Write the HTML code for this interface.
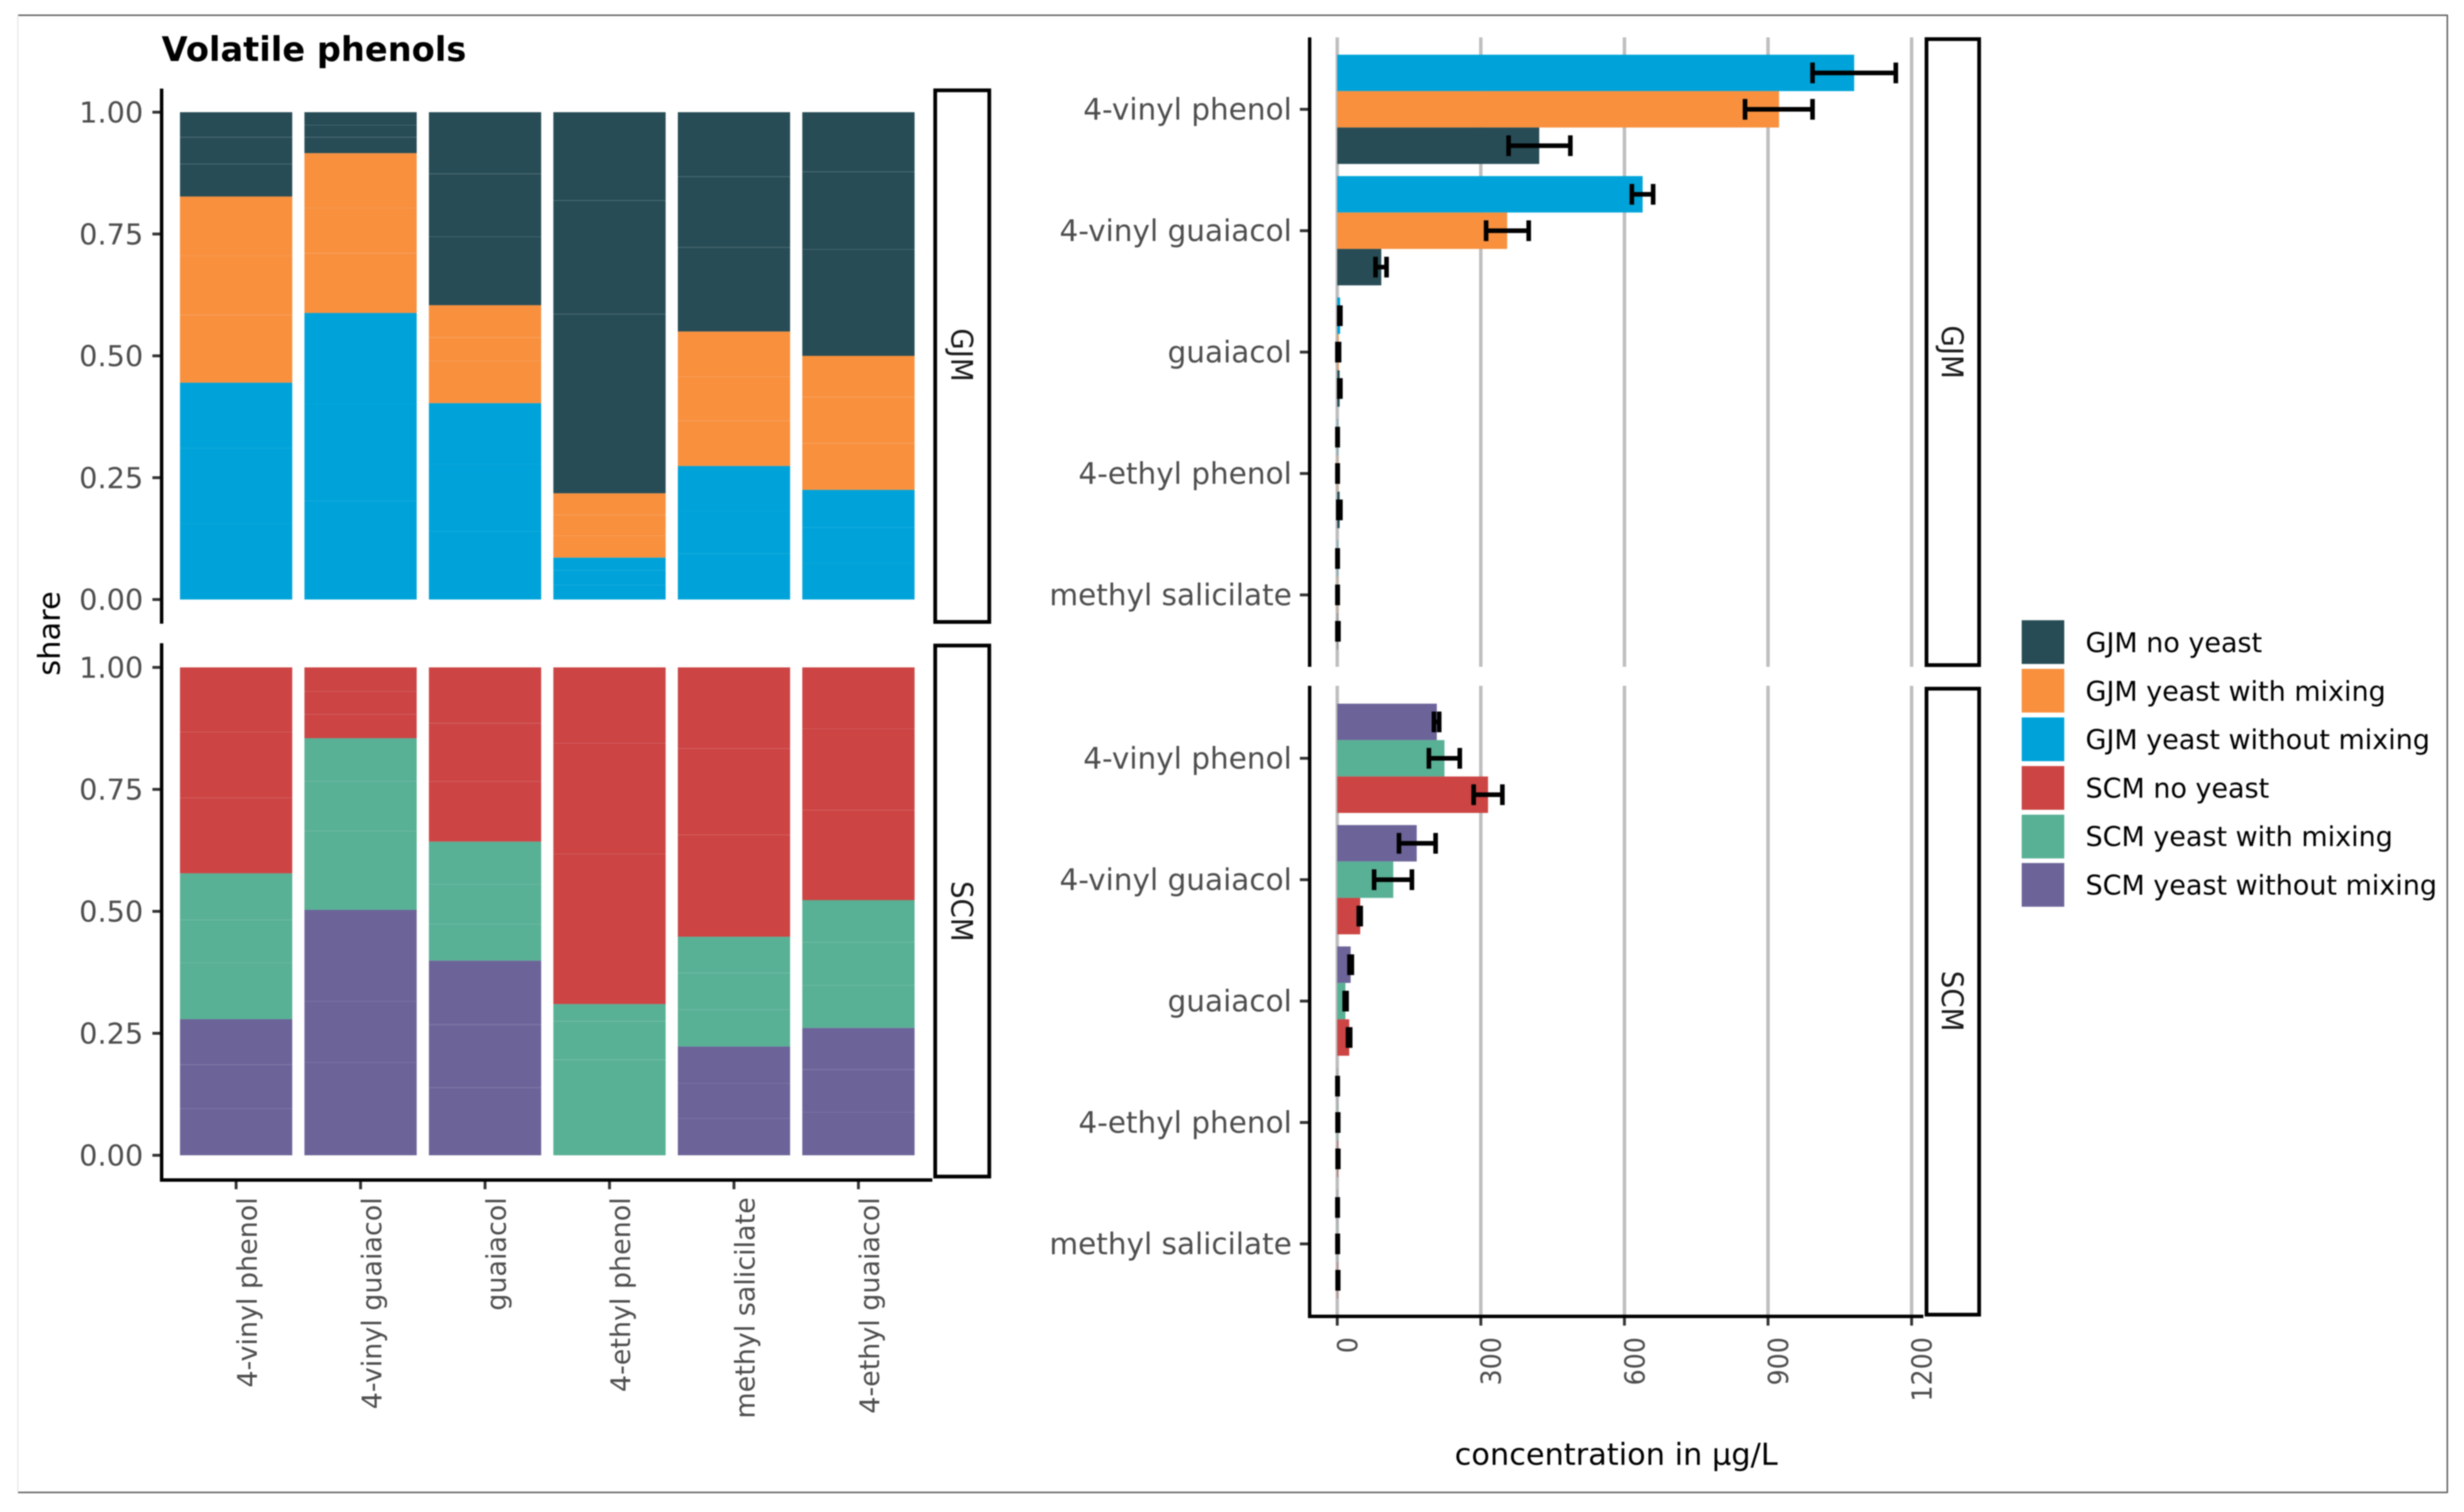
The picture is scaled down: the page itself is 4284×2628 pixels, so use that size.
<!DOCTYPE html>
<html lang="en">
<head>
<meta charset="utf-8">
<title>Volatile phenols</title>
<style>
html,body{margin:0;padding:0;background:#fff;}
svg{display:block;font-family:"DejaVu Sans","Liberation Sans",sans-serif;filter:blur(1px);}
</style>
</head>
<body>
<svg id="chart" xmlns="http://www.w3.org/2000/svg" width="4284" height="2628" viewBox="0 0 4284 2628">
  <rect x="0" y="0" width="4284" height="2628" fill="#ffffff"/>
  <g>
    <line x1="31" y1="26.5" x2="4256" y2="26.5" stroke="#5a5a5a" stroke-width="2.5"/>
    <line x1="31" y1="2594" x2="4256" y2="2594" stroke="#5a5a5a" stroke-width="2.5"/>
    <line x1="4255" y1="26" x2="4255" y2="2594" stroke="#5a5a5a" stroke-width="2.5"/>
    <line x1="31" y1="26" x2="31" y2="2594" stroke="#e6e6e6" stroke-width="2"/>
  </g>
  <text x="281" y="106" font-size="58.5" font-weight="700" fill="#000">Volatile phenols</text>
  <text transform="translate(104,1101) rotate(-90)" text-anchor="middle" font-size="53" fill="#000">share</text>
  <text x="2810" y="2546" text-anchor="middle" font-size="52.8" fill="#000">concentration in µg/L</text>

  <g id="share-panels"></g>
  <g id="conc-panels"></g>

  <g stroke="#000" stroke-width="6" fill="none">
    <line x1="281" y1="154" x2="281" y2="1084"/>
    <line x1="281" y1="1118" x2="281" y2="2054"/>
    <line x1="278" y1="2051" x2="1621" y2="2051"/>
  </g>
  <g stroke="#000" stroke-width="6" fill="none">
    <line x1="2277" y1="65" x2="2277" y2="1159"/>
    <line x1="2277" y1="1192" x2="2277" y2="2291"/>
    <line x1="2274" y1="2288" x2="3344" y2="2288"/>
  </g>

  <g fill="#fff" stroke="#000" stroke-width="6.5">
    <rect x="1626" y="157" width="94" height="924"/>
    <rect x="1626" y="1122" width="94" height="923"/>
    <rect x="3349.5" y="68" width="91.5" height="1088"/>
    <rect x="3349.5" y="1197" width="91.5" height="1088"/>
  </g>
  <g font-size="48" fill="#1a1a1a" text-anchor="middle">
    <text transform="translate(1654,617) rotate(90) scale(1,1.08)">GJM</text>
    <text transform="translate(1654,1584) rotate(90) scale(1,1.08)">SCM</text>
    <text transform="translate(3376,612) rotate(90) scale(1,1.08)">GJM</text>
    <text transform="translate(3376,1740) rotate(90) scale(1,1.08)">SCM</text>
  </g>

  <g font-size="46.9" fill="#000">
    <g>
      <rect x="3515" y="1078" width="74" height="76" fill="#274c56"/>
      <text x="3626" y="1133.5">GJM no yeast</text>
    </g>
    <g>
      <rect x="3515" y="1162.5" width="74" height="76" fill="#f8903e"/>
      <text x="3626" y="1217.8">GJM yeast with mixing</text>
    </g>
    <g>
      <rect x="3515" y="1247" width="74" height="76" fill="#00a3d9"/>
      <text x="3626" y="1302.1">GJM yeast without mixing</text>
    </g>
    <g>
      <rect x="3515" y="1331.5" width="74" height="76" fill="#cc4444"/>
      <text x="3626" y="1386.4">SCM no yeast</text>
    </g>
    <g>
      <rect x="3515" y="1416" width="74" height="76" fill="#58b095"/>
      <text x="3626" y="1470.7">SCM yeast with mixing</text>
    </g>
    <g>
      <rect x="3515" y="1500" width="74" height="76" fill="#6c6499"/>
      <text x="3626" y="1555">SCM yeast without mixing</text>
    </g>
  </g>
</svg>
<script>
const shareCategories = ["4-vinyl phenol","4-vinyl guaiacol","guaiacol","4-ethyl phenol","methyl salicilate","4-ethyl guaiacol"];
const concCategories = ["4-vinyl phenol","4-vinyl guaiacol","guaiacol","4-ethyl phenol","methyl salicilate"];
const shareTicks = [0,0.25,0.5,0.75,1];
const shareTickLabels = ["0.00","0.25","0.50","0.75","1.00"];
const concTicks = [0,300,600,900,1200];
const concTickLabels = ["0","300","600","900","1200"];

const colorNoYeastGjm = "#274c56";
const colorMixGjm = "#f8903e";
const colorNoMixGjm = "#00a3d9";
const colorNoYeastScm = "#cc4444";
const colorMixScm = "#58b095";
const colorNoMixScm = "#6c6499";

/* replicate shares per category, three replicates each */
const shareGjmWithoutMixing = [[.157,.154,.134],[.202,.200,.186],[.140,.138,.125],[.030,.030,.026],[.094,.089,.091],[.075,.073,.077]];
const shareGjmWithMixing = [[.139,.122,.121],[.123,.093,.112],[.087,.048,.066],[.045,.043,.044],[.093,.091,.092],[.096,.095,.084]];
const shareGjmNoYeast = [[.067,.055,.051],[.033,.025,.026],[.141,.129,.126],[.368,.233,.181],[.173,.145,.132],[.219,.159,.122]];
const shareScmWithoutMixing = [[.096,.090,.093],[.191,.125,.187],[.139,.129,.131],[0,0,0],[.076,.072,.075],[.089,.087,.085]];
const shareScmWithMixing = [[.116,.088,.095],[.162,.102,.088],[.075,.082,.087],[.196,.079,.035],[.076,.075,.074],[.088,.088,.086]];
const shareScmNoYeast = [[.155,.135,.132],[.049,.047,.049],[.124,.119,.114],[.308,.227,.155],[.209,.177,.166],[.185,.167,.125]];

/* concentration means with error bar limits */
const concGjmWithoutMixing = [1080,638,6,1,1];
const concGjmWithoutMixingLo = [993,615.5,4.2,0.3,0.3];
const concGjmWithoutMixingHi = [1167,660,6.6,1,1];
const concGjmWithMixing = [923,355,2.5,1,1];
const concGjmWithMixingLo = [852,311,0.3,0.3,0.3];
const concGjmWithMixingHi = [993,400,3.8,1,1];
const concGjmNoYeast = [422,92,5,5,0.8];
const concGjmNoYeastLo = [358,80,4.2,2.2,0.3];
const concGjmNoYeastHi = [487,103,6.6,6.6,2.5];
const concScmWithoutMixing = [208,166,28,0.6,0.6];
const concScmWithoutMixingLo = [202,129,25.5,0.3,0.3];
const concScmWithoutMixingHi = [213,205.5,30.5,1,1];
const concScmWithMixing = [224,117,17,1.2,0.8];
const concScmWithMixingLo = [191.5,77,15.5,0.6,0.4];
const concScmWithMixingHi = [256,156,19.5,2,1.2];
const concScmNoYeast = [315,48,25,1.5,1.2];
const concScmNoYeastLo = [285,45,22.5,0.8,0.8];
const concScmNoYeastHi = [345,49,27,2.2,2];

const SVGNS = "http://www.w3.org/2000/svg";
function mk(parent, tag, attrs, txt){
  const n = document.createElementNS(SVGNS, tag);
  for (const k in attrs) n.setAttribute(k, attrs[k]);
  if (txt !== undefined) n.textContent = txt;
  parent.appendChild(n);
  return n;
}
function slug(s){ return s.replace(/[^a-z0-9]+/gi,'-').toLowerCase(); }

/* axis functions */
function xShare(i){ return 410.5 + 216.4*i; }
const shareBarWidth = 195.2;
function yShareGjm(v){ return 1042 - 847*v; }
function yShareScm(v){ return 2008 - 848*v; }
function xConc(v){ return 2325 + v*(998.6/1200); }
function yConcGjm(i){ return 190 + 211*i; }
function yConcScm(i){ return 1318 + 211*i; }
const concBarHeight = 63.3;

const sharePanels = document.getElementById('share-panels');
const concPanels = document.getElementById('conc-panels');

function drawSharePanel(panelName, yScale, stack){
  const g = mk(sharePanels,'g',{});
  
  
  shareCategories.forEach(function(cat,i){
    let base = 0;
    stack.forEach(function(s){
      s.reps[i].forEach(function(v,j){
        if (v <= 0) return;
        const top = base + v;
        const r = mk(g,'rect',{x:xShare(i)-shareBarWidth/2,y:yScale(top),width:shareBarWidth,height:yScale(base)-yScale(top),fill:s.color});
        
        
        if (j < 2) {
          const l = mk(g,'line',{x1:xShare(i)-shareBarWidth/2,x2:xShare(i)+shareBarWidth/2,y1:yScale(top),y2:yScale(top),stroke:'rgba(255,255,255,'+s.divider+')','stroke-width':2});
          
          
        }
        base = top;
      });
    });
  });
  shareTicks.forEach(function(t,k){
    const tick = mk(g,'line',{x1:265,x2:281,y1:yScale(t),y2:yScale(t),stroke:'#333','stroke-width':5});
    
    
    const lab = mk(g,'text',{x:249,y:yScale(t)+18,'text-anchor':'end','font-size':50,fill:'#4d4d4d'},shareTickLabels[k]);
    
    
  });
}
drawSharePanel('gjm', yShareGjm, [
  {name:'without-mixing',color:colorNoMixGjm,reps:shareGjmWithoutMixing,divider:0.04},
  {name:'with-mixing',color:colorMixGjm,reps:shareGjmWithMixing,divider:0.15},
  {name:'no-yeast',color:colorNoYeastGjm,reps:shareGjmNoYeast,divider:0.18}
]);
drawSharePanel('scm', yShareScm, [
  {name:'without-mixing',color:colorNoMixScm,reps:shareScmWithoutMixing,divider:0.12},
  {name:'with-mixing',color:colorMixScm,reps:shareScmWithMixing,divider:0.14},
  {name:'no-yeast',color:colorNoYeastScm,reps:shareScmNoYeast,divider:0.14}
]);
shareCategories.forEach(function(cat,i){
  const t = mk(sharePanels,'line',{x1:xShare(i),x2:xShare(i),y1:2051,y2:2067,stroke:'#333','stroke-width':5});
  
  
  const lab = mk(sharePanels,'text',{transform:'translate('+(xShare(i)+36)+',2081) rotate(-90)','text-anchor':'end','font-size':46.8,fill:'#4d4d4d'},cat);
  
  
});

function drawConcPanel(panelName, yScale, top, bottom, series){
  const g = mk(concPanels,'g',{});
  
  
  concTicks.forEach(function(t){
    const gl = mk(g,'line',{x1:xConc(t),x2:xConc(t),y1:top,y2:bottom,stroke:'#bebebe','stroke-width':6});
    
    
  });
  concCategories.forEach(function(cat,i){
    series.forEach(function(s,k){
      const cy = yScale(i) + (k-1)*concBarHeight;
      const b = mk(g,'rect',{x:xConc(0),y:cy-concBarHeight/2,width:xConc(s.mean[i])-xConc(0),height:concBarHeight,fill:s.color});
      
      
    });
  });
  concCategories.forEach(function(cat,i){
    series.forEach(function(s,k){
      const cy = yScale(i) + (k-1)*concBarHeight;
      const lo = xConc(s.lo[i]), hi = xConc(s.hi[i]);
      const e = mk(g,'path',{d:'M'+lo+' '+(cy-18)+'V'+(cy+18)+'M'+hi+' '+(cy-18)+'V'+(cy+18)+'M'+lo+' '+cy+'H'+hi,stroke:'#000','stroke-width':8,fill:'none'});
      
      
    });
    const tick = mk(g,'line',{x1:2260,x2:2277,y1:yScale(i),y2:yScale(i),stroke:'#333','stroke-width':5});
    
    
    const lab = mk(g,'text',{x:2246,y:yScale(i)+18,'text-anchor':'end','font-size':51.3,fill:'#4d4d4d'},cat);
    
    
  });
}
drawConcPanel('gjm', yConcGjm, 65, 1159, [
  {name:'without-mixing',color:colorNoMixGjm,mean:concGjmWithoutMixing,lo:concGjmWithoutMixingLo,hi:concGjmWithoutMixingHi},
  {name:'with-mixing',color:colorMixGjm,mean:concGjmWithMixing,lo:concGjmWithMixingLo,hi:concGjmWithMixingHi},
  {name:'no-yeast',color:colorNoYeastGjm,mean:concGjmNoYeast,lo:concGjmNoYeastLo,hi:concGjmNoYeastHi}
]);
drawConcPanel('scm', yConcScm, 1192, 2288, [
  {name:'without-mixing',color:colorNoMixScm,mean:concScmWithoutMixing,lo:concScmWithoutMixingLo,hi:concScmWithoutMixingHi},
  {name:'with-mixing',color:colorMixScm,mean:concScmWithMixing,lo:concScmWithMixingLo,hi:concScmWithMixingHi},
  {name:'no-yeast',color:colorNoYeastScm,mean:concScmNoYeast,lo:concScmNoYeastLo,hi:concScmNoYeastHi}
]);
concTicks.forEach(function(t,k){
  const tick = mk(concPanels,'line',{x1:xConc(t),x2:xConc(t),y1:2288,y2:2304,stroke:'#333','stroke-width':5});
  
  
  const lab = mk(concPanels,'text',{transform:'translate('+(xConc(t)+35)+',2324) rotate(-90) scale(1,1.1)','text-anchor':'end','font-size':44,fill:'#4d4d4d'},concTickLabels[k]);
  
  
});
</script>
</body>
</html>
